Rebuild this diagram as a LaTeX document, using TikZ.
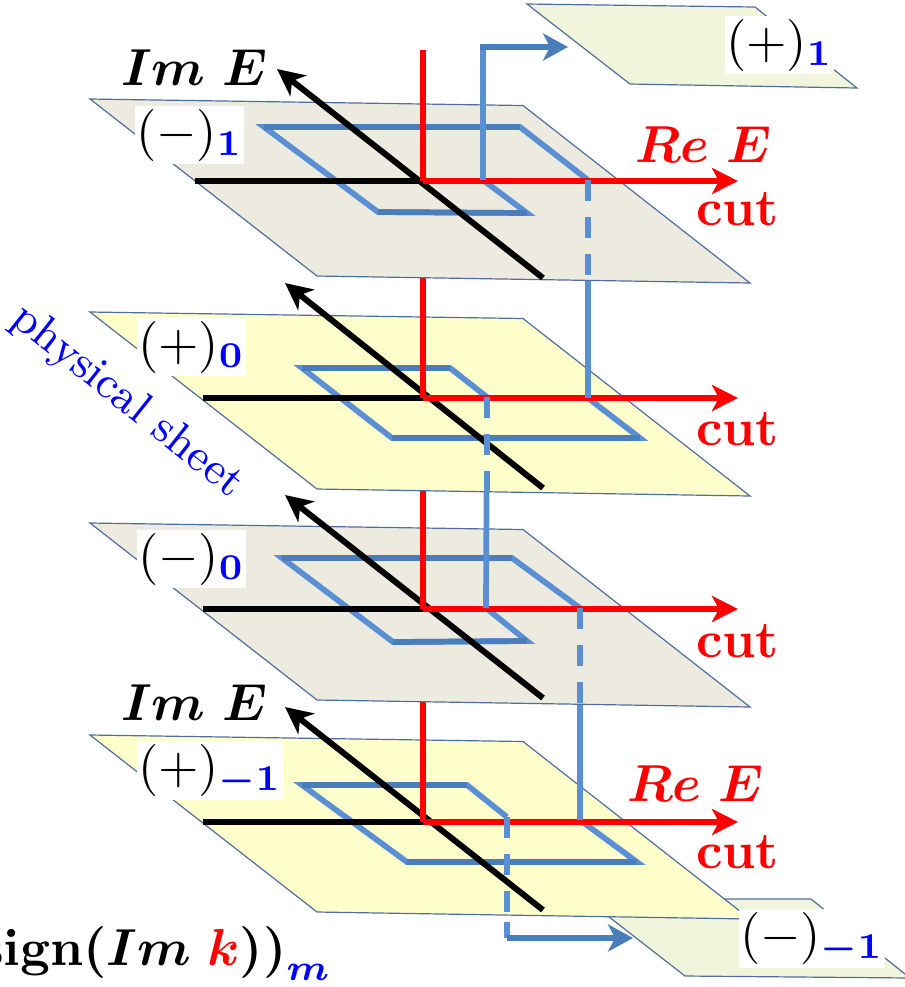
\documentclass[tikz,border=0pt]{standalone}
\usepackage{amsmath,amsbsy}
\usetikzlibrary{arrows.meta}
\definecolor{sgray}{HTML}{EDEBE0}
\definecolor{syel}{HTML}{FFFFCC}
\definecolor{sgreen}{HTML}{F1F5DC}
\definecolor{sedge}{HTML}{4F6E9E}
\definecolor{bdark}{HTML}{4A7EBB}
\definecolor{blight}{HTML}{5B8FD4}
\newcommand\signtxt{$\mathbf{sign}\boldsymbol{(Im\;}\textcolor{red}{\boldsymbol{k}}\boldsymbol{))}_{\textcolor{blue}{\boldsymbol{m}}}$}
\tikzset{
  sheetst/.style={draw=sedge, line width=0.23pt},
  blk/.style={line width=1.15pt, black},
  blkarrow/.style={blk, -{Stealth[length=5.2pt,width=5pt,inset=1.5pt]}},
  redl/.style={line width=1.15pt, red},
  redarrow/.style={redl, -{Stealth[length=5pt,width=5pt,inset=1.35pt]}},
  bl/.style={line width=1.1pt, blight},
  bld/.style={line width=1.1pt, bdark},
  bdash/.style={line width=1.1pt, blight, dash pattern=on 4.04pt off 3.08pt},
  barrow/.style={line width=1.1pt, bdark, -{Stealth[length=4.8pt,width=5.2pt,inset=1.35pt]}},
  lab/.style={fill=white, inner xsep=0.2pt, inner ysep=0.58pt, anchor=north west},
  axlab/.style={inner sep=0pt, anchor=base west},
}
\newcommand\mysheet[3]{% #1 = top y, #2 = fill, #3 = name
  \fill[#2] (90,#1) coordinate (#3a) -- (523,#1+6.5) coordinate (#3b)
     -- (750,#1+184) coordinate (#3c) -- (317,#1+177) coordinate (#3d) -- cycle;
  \draw[sheetst] (#3a) -- (#3b) -- (#3c) -- (#3d) -- cycle;
}
\newcommand\myaxes[5]{% #1 origin y, #2 black start x, #3 im end, #4 im tip, #5 name
  \coordinate (#5o) at (423,#1);
  \coordinate (#5w) at (#2,#1);
  \coordinate (#5e) at (738,#1);
  \draw[blk] (#5w) -- (#5o);
  \draw[blkarrow] #3 -- #4;
  \draw[redarrow] (#5o) -- (#5e);
}
\begin{document}
\begin{tikzpicture}[x=0.1923pt, y=-0.1923pt]
\useasboundingbox (0,0) rectangle (904,987);

% small sheets
\fill[sgreen] (527,4) coordinate (pa) -- (755,7) coordinate (pb) -- (857,88) coordinate (pc) -- (630,84) coordinate (pd) -- cycle;
\draw[sheetst] (pa) -- (pb) -- (pc) -- (pd) -- cycle;
\fill[sgreen] (586,899) coordinate (ma) -- (811,899) coordinate (mb) -- (910,978) coordinate (mc) -- (685,976) coordinate (md) -- cycle;
\draw[sheetst] (ma) -- (mb) -- (mc) -- (md) -- cycle;

% ---------- sheet 4 : (+)_{-1}
\mysheet{735}{syel}{s4}
\draw[bl] (580,820) coordinate (q4a) -- (637,862) -- (407,862) -- (302,785) -- (467,785) -- (507,817) coordinate (q4b);
\draw[bld] (637,862) -- (407,862);
\draw[bld] (302,785) -- (467,785);
\myaxes{822}{203}{(543,910)}{(285,707)}{a4}
\draw[bdash] (q4b) -- (507,914);
\coordinate (q4c) at (507,938);
\coordinate (q4t) at (633,938);
\draw[bl] (507,922) -- (q4c);
\draw[barrow] (q4c) -- (q4t);
% verticals up to sheet 3
\draw[redl] (a4o) -- (423,609);
\draw[bl] (q4a) -- (580,608);

% ---------- sheet 3 : (-)_0
\mysheet{523}{sgray}{s3}
\draw[bl] (486,608) coordinate (q3a) -- (527,641) -- (393,642) -- (282,558) -- (512,558) -- (580,608) coordinate (q3b);
\draw[bld] (527,641) -- (393,642);
\draw[bld] (282,558) -- (512,558);
\myaxes{609}{203}{(543,698)}{(285,495)}{a3}
\draw[bdash] (q3b) -- (580,704);
\draw[redl] (a3o) -- (423,398);
\draw[bl] (q3a) -- (487,397);

% ---------- sheet 2 : (+)_0
\mysheet{312}{syel}{s2}
\draw[bl] (588,398) coordinate (q2a) -- (640,438) -- (392,438) -- (302,368) -- (450,368) -- (487,397) coordinate (q2b);
\draw[bld] (640,438) -- (392,438);
\draw[bld] (302,368) -- (450,368);
\myaxes{398}{203}{(543,488)}{(285,283)}{a2}
\draw[bdash] (q2b) -- (487,492);
\draw[redl] (a2o) -- (423,181);
\draw[bl] (q2a) -- (588,180);

% ---------- sheet 1 : (-)_1
\mysheet{99}{sgray}{s1}
\draw[bl] (483,180) coordinate (q1a) -- (527,213) -- (378,212) -- (264,127) -- (520,127) -- (588,180) coordinate (q1b);
\draw[bld] (527,213) -- (378,212);
\draw[bld] (264,127) -- (520,127);
\coordinate (a1o) at (423,181);
\coordinate (a1w) at (195,181);
\coordinate (a1e) at (738,181);
\draw[blk] (a1w) -- (a1o);
\draw[blkarrow] (543,278) -- (277,69);
\draw[redarrow] (a1o) -- (a1e);
\draw[redl] (a1o) -- (423,50);
\draw[bdash] (q1b) -- (588,282);
\coordinate (q1c) at (483,47);
\coordinate (q1t) at (568,47);
\draw[bl] (q1a) -- (483,50);
\draw[barrow] (480,47) -- (q1t);

% ---------- labels
\node[lab] (l1) at (134,105) {$(-)_{\textcolor{blue}{\mathbf{1}}}$};
\node[lab] (l2) at (136,317) {$(+)_{\textcolor{blue}{\mathbf{0}}}$};
\node[lab] (l3) at (136,529) {$(-)_{\textcolor{blue}{\mathbf{0}}}$};
\node[lab] (l4) at (136,740) {$(+)_{\textcolor{blue}{\boldsymbol{-1}}}$};
\node[lab] (l5) at (724,15) {$(+)_{\textcolor{blue}{\mathbf{1}}}$};
\node[lab] (l6) at (738,908) {$(-)_{\textcolor{blue}{\boldsymbol{-1}}}$};

\node[axlab] (im1) at (120,85) {$\boldsymbol{Im\ E}$};
\node[axlab] (im4) at (120,720) {$\boldsymbol{Im\ E}$};
\node[axlab, red] (re1) at (634,162) {$\boldsymbol{Re\ E}$};
\node[axlab, red] (re4) at (626,801) {$\boldsymbol{Re\ E}$};
\node[axlab, red] (c1) at (695,225) {\textbf{cut}};
\node[axlab, red] (c2) at (695,445) {\textbf{cut}};
\node[axlab, red] (c3) at (695,657) {\textbf{cut}};
\node[axlab, red] (c4) at (695,868) {\textbf{cut}};

\node[blue, rotate=-38.5, inner sep=0pt, font=\fontsize{8.7}{10}\selectfont] (ps) at (127,402) {physical sheet};

\node[inner sep=0pt, anchor=base east] (sg) at (333,965) {\signtxt};
\end{tikzpicture}
\end{document}
